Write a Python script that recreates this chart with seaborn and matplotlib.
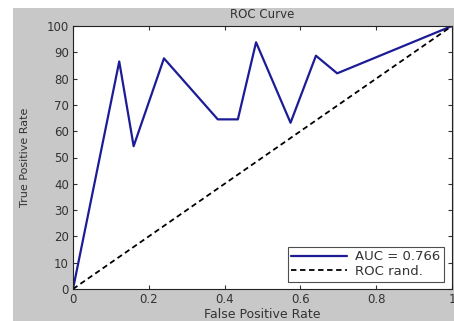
import matplotlib
matplotlib.use("Agg")
import matplotlib.pyplot as plt
import seaborn as sns
import pandas as pd
from matplotlib.patches import Rectangle

sns.set_theme(style="white")
plt.rcParams['font.family'] = ['DejaVu Sans']

fpr = [0.0, 0.122, 0.16, 0.24, 0.382, 0.435, 0.483, 0.574, 0.641, 0.697, 1.0]
tpr = [0.0, 86.5, 54.3, 87.7, 64.5, 64.5, 93.8, 63.2, 88.7, 82.0, 100.0]
rand_x = [0.0, 1.0]
rand_y = [0.0, 100.0]
xticks = [0, 0.2, 0.4, 0.6, 0.8, 1]
xticklabels = ["0", "0.2", "0.4", "0.6", "0.8", "1"]
yticks = list(range(0, 101, 10))

roc = pd.DataFrame({"fpr": fpr, "tpr": tpr})
rnd = pd.DataFrame({"fpr": rand_x, "tpr": rand_y})

fig = plt.figure(figsize=(4.54, 3.21), dpi=100)
fig.patch.set_facecolor("white")
fig.patches.append(Rectangle((13/454, 0), 1, (321-8)/321, transform=fig.transFigure,
                             facecolor="#c8c8c8", edgecolor="none", zorder=-10))
ax = fig.add_axes([73/454, (321-289)/321, (452-73)/454, (289-26)/321])
ax.set_facecolor("white")

sns.lineplot(data=roc, x="fpr", y="tpr", sort=False, ax=ax, color="#1c1c96",
             linewidth=1.6, label="AUC = 0.766")
sns.lineplot(data=rnd, x="fpr", y="tpr", sort=False, ax=ax, color="black",
             linewidth=1.3, linestyle=(0, (3, 2)), label="ROC rand.")

ax.set_xlim(0, 1)
ax.set_ylim(0, 100)
ax.set_xticks(xticks)
ax.set_xticklabels(xticklabels)
ax.set_yticks(yticks)
ax.tick_params(axis="both", direction="in", length=3, width=0.8, labelsize=8.5,
               top=True, right=True, bottom=True, left=True, colors="#333333",
               pad=3)
for s in ax.spines.values():
    s.set_visible(True)
    s.set_color("#222222")
    s.set_linewidth(0.8)

ax.set_title("ROC Curve", fontsize=8.5, pad=6, color="#333333")
ax.set_xlabel("False Positive Rate", fontsize=9, labelpad=1, color="#333333")
ax.set_ylabel("True Positive Rate", fontsize=8, labelpad=12, color="#333333")

leg = ax.legend(loc="lower right", fontsize=9.5, frameon=True, fancybox=False,
                handlelength=4.2, borderpad=0.3, labelspacing=0.12,
                handletextpad=0.6, borderaxespad=0,
                bbox_to_anchor=((444-73)/379, (289-282)/263))
leg.get_frame().set_edgecolor("#222222")
leg.get_frame().set_linewidth(0.8)
for t in leg.get_texts():
    t.set_color("#333333")

fig.savefig("out.png", dpi=100, facecolor=fig.get_facecolor())
